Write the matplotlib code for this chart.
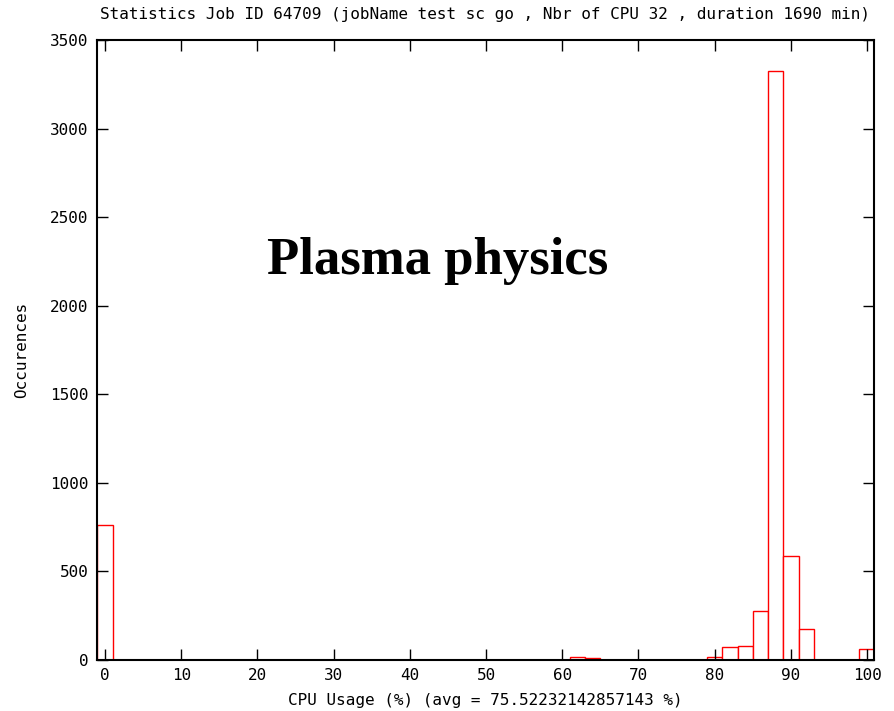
import matplotlib
matplotlib.use("Agg")
import matplotlib.pyplot as plt

# CPU usage histogram, bins of width 2 centred on even values
cpu_bins = list(range(0, 102, 2))
counts = {0: 765, 62: 19, 64: 11, 80: 19, 82: 72, 84: 78, 86: 275,
          88: 3325, 90: 589, 92: 173, 100: 64}
occurences = [counts.get(b, 0) for b in cpu_bins]

x_ticks = list(range(0, 101, 10))
y_ticks = list(range(0, 3501, 500))

title = "Statistics Job ID 64709 (jobName test sc go , Nbr of CPU 32 , duration 1690 min)"
xlabel = "CPU Usage (%) (avg = 75.52232142857143 %)"

fig = plt.figure(figsize=(8.95, 7.11), dpi=100)
ax = fig.add_axes([0.1084, 0.0717, 0.8681, 0.872])

mono = "DejaVu Sans Mono"

ax.bar(cpu_bins, occurences, width=2, facecolor="white", edgecolor="red",
       linewidth=1.0, align="center")

ax.set_xlim(-1.05, 100.9)
ax.set_ylim(0, 3500)
ax.set_xticks(x_ticks)
ax.set_yticks(y_ticks)
ax.tick_params(direction="in", length=8, width=1, top=True, right=True,
               labelsize=11.5, pad=6)
for lab in ax.get_xticklabels() + ax.get_yticklabels():
    lab.set_family(mono)
for sp in ax.spines.values():
    sp.set_linewidth(1.5)

ax.set_title(title, fontsize=11.5, family=mono, pad=15)
ax.set_xlabel(xlabel, fontsize=11.5, family=mono, labelpad=7)
ax.set_ylabel("Occurences", fontsize=11.5, family=mono, labelpad=15)

fig.text(0.489, 0.633, "Plasma physics", fontsize=38, fontweight="bold",
         family="Liberation Serif", ha="center", va="center")

fig.savefig("out.png", dpi=100)
